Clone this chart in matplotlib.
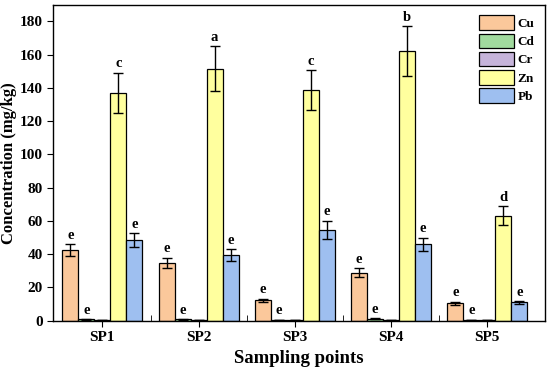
import numpy as np
import matplotlib.pyplot as plt

plt.rcParams['font.family'] = 'Liberation Serif'
plt.rcParams['font.weight'] = 'bold'

sites = ['SP1', 'SP2', 'SP3', 'SP4', 'SP5']
metals = ['Cu', 'Cd', 'Cr', 'Zn', 'Pb']
colors = ['#FBC89B', '#A1DA9E', '#C6B4DA', '#FFFF9E', '#9EBFF0']

cu = [42.5, 34.8, 12.3, 28.8, 10.5]
cd = [0.8, 0.8, 0.6, 1.2, 0.6]
cr = [0.3, 0.3, 0.2, 0.3, 0.2]
zn = [137, 151.5, 138.5, 162, 63.2]
pb = [48.5, 39.5, 54.5, 46, 11]

cu_err = [3.5, 3.0, 1.0, 2.7, 0.8]
cd_err = [0.2, 0.2, 0.1, 0.2, 0.1]
cr_err = [0.05, 0.05, 0.05, 0.05, 0.05]
zn_err = [12, 13.5, 12, 15, 5.5]
pb_err = [4, 3.5, 5.5, 4, 0.8]

cu_lab = ['e', 'e', 'e', 'e', 'e']
cd_lab = ['e', 'e', 'e', 'e', 'e']
cr_lab = ['', '', '', '', '']
zn_lab = ['c', 'a', 'c', 'b', 'd']
pb_lab = ['e', 'e', 'e', 'e', 'e']

vals = [cu, cd, cr, zn, pb]
errs = [cu_err, cd_err, cr_err, zn_err, pb_err]
labs = [cu_lab, cd_lab, cr_lab, zn_lab, pb_lab]

fig = plt.figure(figsize=(5.5, 3.72), dpi=100)
ax = fig.add_axes([0.097, 0.138, 0.894, 0.849])

x = np.arange(len(sites))
w = 0.166
for i in range(len(metals)):
    pos = x + (i - 2) * w
    ax.bar(pos, vals[i], w, yerr=errs[i], color=colors[i], edgecolor='black',
           linewidth=0.9, label=metals[i], capsize=3.5,
           error_kw=dict(elinewidth=1, capthick=1, ecolor='black'))
    for j in range(len(sites)):
        if labs[i][j]:
            ax.text(pos[j], vals[i][j] + errs[i][j] + 1.5, labs[i][j],
                    ha='center', va='bottom', fontsize=10.5, fontweight='bold')

ax.set_xlim(-0.51, 4.6)
ax.set_ylim(0, 190)
ax.set_yticks(np.arange(0, 181, 20))
ax.set_xticks(x)
ax.set_xticklabels(sites)
ax.set_xticks(x[:-1] + 0.5, minor=True)
ax.tick_params(axis='x', which='minor', direction='in', length=4)
ax.tick_params(axis='both', which='major', direction='out', length=4, labelsize=11)
ax.set_xlabel('Sampling points', fontsize=13.5, fontweight='bold')
ax.set_ylabel('Concentration (mg/kg)', fontsize=12, fontweight='bold', labelpad=2)
for s in ax.spines.values():
    s.set_linewidth(1)

ax.legend(loc='upper right', frameon=False, fontsize=9.5, handlelength=2.6,
          handleheight=1.35, handletextpad=0.3, labelspacing=0.25,
          borderaxespad=0.4)

fig.savefig('out.png', dpi=100)
